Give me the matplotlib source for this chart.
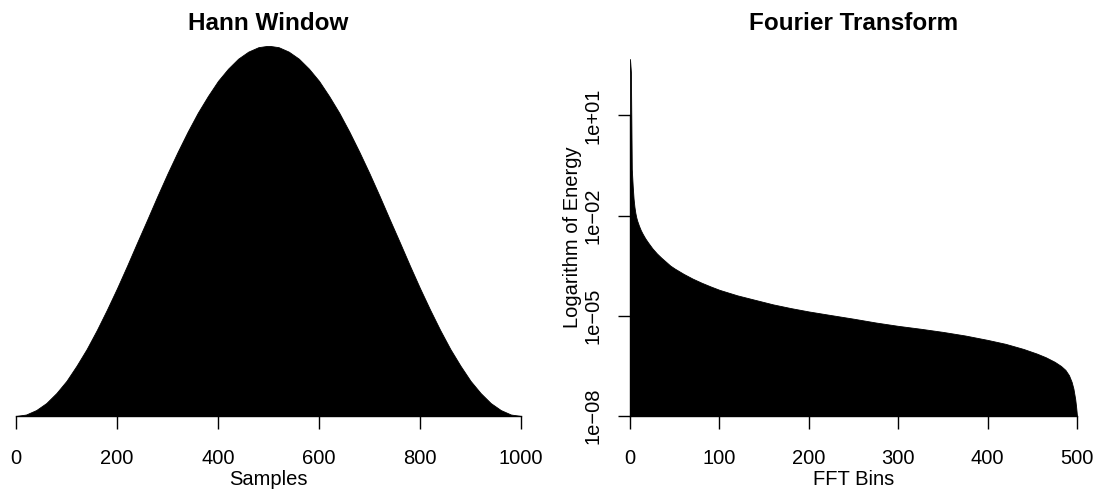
import matplotlib
matplotlib.use("Agg")
import matplotlib.pyplot as plt
from matplotlib.ticker import FixedLocator, FixedFormatter, NullLocator

plt.rcParams['font.family'] = ['Liberation Sans', 'DejaVu Sans']

# ---------------- data ----------------
# Hann window (values read every 20 samples)
hann_samples = [0, 20, 40, 60, 80, 100, 120, 140, 160, 180, 200, 220, 240, 260, 280,
                300, 320, 340, 360, 380, 400, 420, 440, 460, 480, 500, 520, 540, 560,
                580, 600, 620, 640, 660, 680, 700, 720, 740, 760, 780, 800, 820, 840,
                860, 880, 900, 920, 940, 960, 980, 1000]
hann_values = [0.000, 0.004, 0.016, 0.035, 0.062, 0.095, 0.136, 0.181, 0.232, 0.287,
               0.345, 0.406, 0.469, 0.531, 0.594, 0.655, 0.713, 0.768, 0.819, 0.864,
               0.905, 0.938, 0.965, 0.984, 0.996, 1.000, 0.996, 0.984, 0.965, 0.938,
               0.905, 0.864, 0.819, 0.768, 0.713, 0.655, 0.594, 0.531, 0.469, 0.406,
               0.345, 0.287, 0.232, 0.181, 0.136, 0.095, 0.062, 0.035, 0.016, 0.004,
               0.000]
hann_xticks = [0, 200, 400, 600, 800, 1000]

# Fourier transform energy (log scale)
fft_bins = [0, 1, 2, 3, 4, 5, 6, 7, 8, 10, 12, 14, 17, 20, 25, 30, 35, 40, 45, 50,
            60, 70, 80, 90, 100, 120, 140, 160, 180, 200, 225, 250, 275, 300, 325,
            350, 375, 400, 420, 440, 455, 465, 475, 482, 487, 491, 494, 496, 498,
            499, 500]
fft_energy = [4.9e2, 2.0e2, 2.5e-1, 7.9e-2, 3.2e-2, 1.8e-2, 1.2e-2, 8.9e-3, 7.1e-3,
              5.0e-3, 3.7e-3, 2.9e-3, 2.1e-3, 1.6e-3, 1.05e-3, 7.4e-4, 5.5e-4, 4.2e-4,
              3.2e-4, 2.6e-4, 1.8e-4, 1.3e-4, 9.8e-5, 7.6e-5, 6.0e-5, 4.1e-5, 3.0e-5,
              2.2e-5, 1.7e-5, 1.35e-5, 1.05e-5, 8.2e-6, 6.3e-6, 5.0e-6, 4.1e-6,
              3.3e-6, 2.57e-6, 1.9e-6, 1.45e-6, 1.02e-6, 7.4e-7, 5.75e-7, 4.2e-7,
              3.16e-7, 2.4e-7, 1.66e-7, 1.05e-7, 6.6e-8, 3.2e-8, 1.9e-8, 1.0e-8]
fft_xticks = [0, 100, 200, 300, 400, 500]
fft_yticks = [1e-8, 1e-5, 1e-2, 1e1]
fft_ytick_labels = ['1e\u221208', '1e\u221205', '1e\u221202', '1e+01']

# ---------------- figure ----------------
W, H = 1103, 496
fig = plt.figure(figsize=(W / 100, H / 100), dpi=100)

def px_axes(x0, x1, y0, y1):
    return fig.add_axes([x0 / W, 1 - y1 / H, (x1 - x0) / W, (y1 - y0) / H])

FS = 14.5
TFS = 17.5

# Left panel
ax1 = px_axes(16, 521, 45.7, 416)
ax1.fill_between(hann_samples, hann_values, 0, color='black', linewidth=0.6,
                 edgecolor='black')
ax1.set_xlim(0, 1000)
ax1.set_ylim(0, max(hann_values))
for s in ['top', 'right', 'left']:
    ax1.spines[s].set_visible(False)
ax1.spines['bottom'].set_bounds(0, 1000)
ax1.yaxis.set_major_locator(NullLocator())
ax1.xaxis.set_major_locator(FixedLocator(hann_xticks))
ax1.tick_params(axis='x', length=9, width=1.0, pad=15, labelsize=FS)
ax1.set_xlabel('Samples', fontsize=FS, labelpad=1)
ax1.set_title('Hann Window', fontsize=TFS, fontweight='bold', pad=11.5)

# Right panel
ax2 = px_axes(630, 1077, 59, 416)
ax2.set_yscale('log')
ax2.fill_between(fft_bins, fft_energy, 1e-8, color='black', linewidth=0.6,
                 edgecolor='black')
ax2.set_xlim(0, 500)
ax2.set_ylim(1e-8, max(fft_energy))
for s in ['top', 'right']:
    ax2.spines[s].set_visible(False)
ax2.spines['bottom'].set_bounds(0, 500)
ax2.spines['left'].set_bounds(1e-8, 1e1)
ax2.xaxis.set_major_locator(FixedLocator(fft_xticks))
ax2.yaxis.set_major_locator(FixedLocator(fft_yticks))
ax2.yaxis.set_major_formatter(FixedFormatter(fft_ytick_labels))
ax2.yaxis.set_minor_locator(NullLocator())
ax2.tick_params(axis='x', length=9, width=1.0, pad=15, labelsize=FS)
ax2.tick_params(axis='y', length=9, width=1.0, pad=11, labelsize=FS)
for lab in ax2.get_yticklabels():
    lab.set_rotation(90)
    lab.set_va('center')
ax2.set_xlabel('FFT Bins', fontsize=FS, labelpad=1)
ax2.set_ylabel('Logarithm of Energy', fontsize=FS, labelpad=1)
ax2.set_title('Fourier Transform', fontsize=TFS, fontweight='bold', pad=21)

for ax in (ax1, ax2):
    for s in ax.spines.values():
        s.set_linewidth(1.0)

fig.savefig('out.png', dpi=100)
